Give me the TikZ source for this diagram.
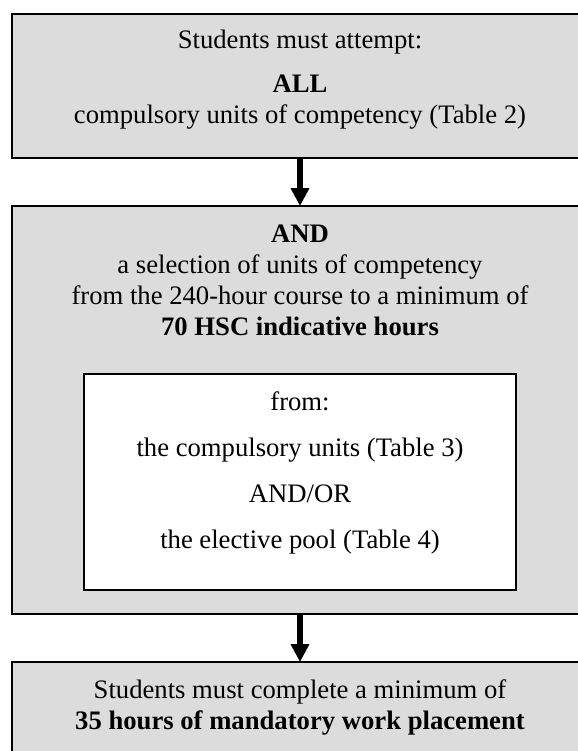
\documentclass[tikz,border=0pt]{standalone}
\usepackage{fontspec}
\setmainfont{Liberation Serif}
\usepackage{xcolor}
\usepackage{tikz}
\usetikzlibrary{positioning,arrows.meta}

\definecolor{boxgray}{RGB}{220,220,220}

\begin{document}
\begin{tikzpicture}[
  font=\fontsize{12}{14}\selectfont,
  box/.style={draw, line width=0.9pt, fill=boxgray, minimum width=259.2pt, inner sep=0pt, outer sep=0pt},
  pool/.style={draw, line width=0.9pt, fill=white, minimum width=194.4pt, minimum height=97.2pt, inner sep=0pt, outer sep=0pt},
  txt/.style={align=center, inner sep=0pt, anchor=north},
  arr/.style={-{Triangle[width=8pt,length=8.1pt]}, line width=2.7pt}
]
  \useasboundingbox (0,0) rectangle (260.1pt,-337.95pt);
  \clip (0,0) rectangle (260.1pt,-337.95pt);
  \node[box, minimum height=64.8pt, anchor=north west] (top) at (5.4pt,-6.3pt) {};
  \node[box, minimum height=183.6pt, below=21.6pt of top] (mid) {};
  \node[box, minimum height=50pt, below=21.6pt of mid] (bottom) {};
  \node[pool, above=10.8pt of mid.south] (pool) {};
  \node[txt, below=7.2pt of top.north] (toptext) {Students must attempt:\\[5.4pt]\textbf{ALL}\\compulsory units of competency (Table 2)};
  \node[txt, below=8.3pt of mid.north] (midtext) {\textbf{AND}\\a selection of units of competency\\from the 240-hour course to a minimum of\\\textbf{70 HSC indicative hours}};
  \node[txt, below=7.65pt of pool.north] (pooltext) {from:\\[6.8pt]the compulsory units (Table 3)\\[6.8pt]AND/OR\\[6.8pt]the elective pool (Table 4)};
  \node[txt, below=7.65pt of bottom.north] (bottomtext) {Students must complete a minimum of\\\textbf{35 hours of mandatory work placement}};
  \draw[arr] (top) -- (mid);
  \draw[arr] (mid) -- (bottom);
\end{tikzpicture}
\end{document}
